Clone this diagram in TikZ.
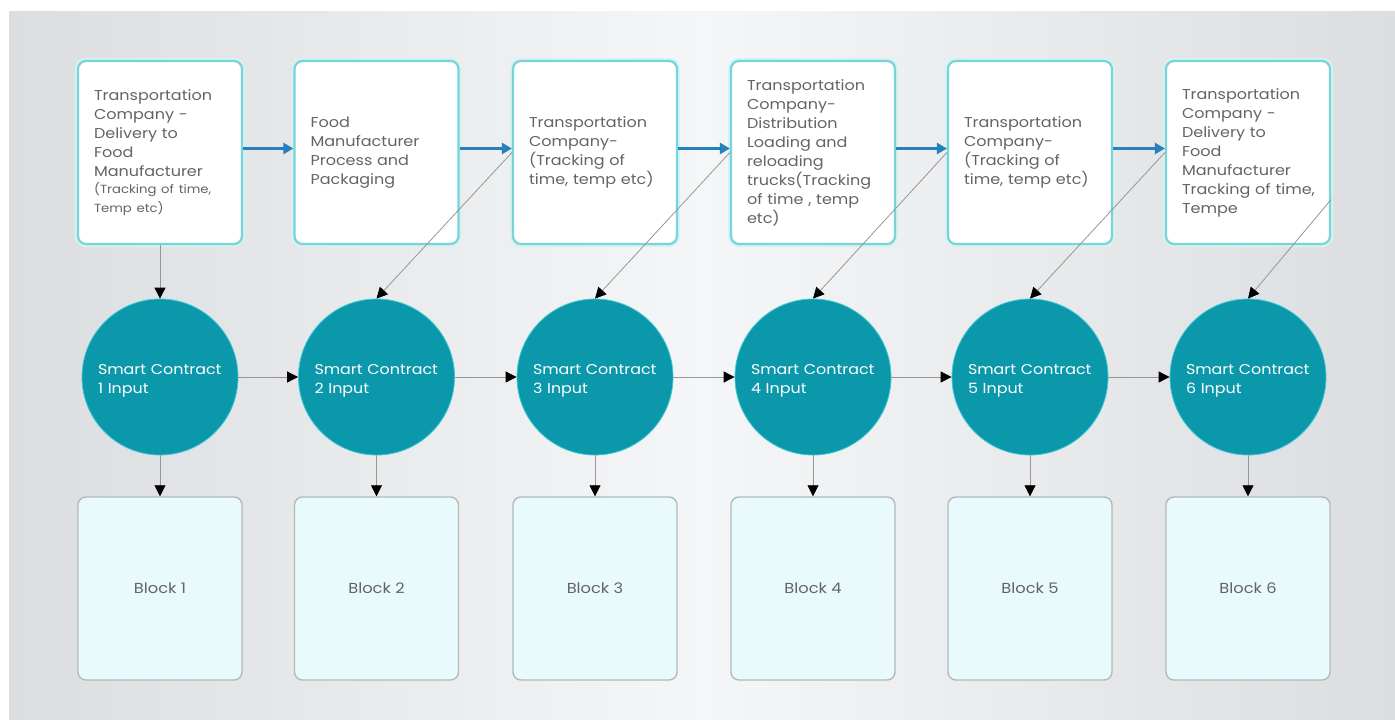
\documentclass[tikz,border=0pt]{standalone}
\usepackage{fontspec}
\setmainfont{Poppins}[FakeStretch=1.12]
\usetikzlibrary{arrows.meta}
\definecolor{bgA}{RGB}{220,221,224}
\definecolor{bgB}{RGB}{245,246,247}
\definecolor{boxcyan}{RGB}{120,212,214}
\definecolor{glowc}{RGB}{214,242,243}
\definecolor{txtgrey}{RGB}{100,100,100}
\definecolor{tealc}{RGB}{10,152,170}
\definecolor{tealedge}{RGB}{60,200,215}
\definecolor{blkfill}{RGB}{233,250,252}
\definecolor{blkedge}{RGB}{178,186,188}
\definecolor{arrblue}{RGB}{38,128,190}
\definecolor{lnGrey}{RGB}{150,150,150}
\tikzset{
  topbox/.style={draw=boxcyan, line width=2.2pt, fill=white, rounded corners=8pt,
    preaction={draw=glowc, line width=6pt},
    minimum height=183pt, text width=132pt, inner xsep=16pt, inner ysep=0pt,
    align=left, text=txtgrey, font=\fontsize{14.3}{19}\selectfont},
  sc/.style={circle, fill=tealc, draw=tealedge, line width=0.8pt, minimum size=156pt,
    text width=124pt, align=left, text=white, font=\fontsize{14.2}{19}\selectfont},
  blk/.style={draw=blkedge, line width=1.4pt, fill=blkfill, rounded corners=8pt,
    minimum width=164pt, minimum height=183pt, text=txtgrey,
    font=\fontsize{14.5}{19}\selectfont},
  bluearr/.style={draw=arrblue, line width=3pt, -{Triangle[length=10pt,width=11pt]}},
  blkarr/.style={draw=lnGrey, line width=0.8pt, -{Triangle[length=11pt,width=11pt,color=black]}}
}
\begin{document}
\begin{tikzpicture}[x=1pt,y=-1pt]
\useasboundingbox (0,0) rectangle (1395,720);
\fill[white] (0,0) rectangle (1395,720);
\shade[left color=bgA, right color=bgA, middle color=bgB] (9,11) rectangle (1395,720);

% top boxes
\node[topbox] (t1) at (160,152.5) {Transportation\\Company -\\Delivery to\\Food\\Manufacturer\\{\fontsize{11.8}{17}\selectfont (Tracking of time,\\Temp etc)}};
\node[topbox] (t2) at (376.5,152.5) {Food\\Manufacturer\\Process and\\Packaging};
\node[topbox] (t3) at (595,152.5) {Transportation\\Company-\\(Tracking of\\time, temp etc)};
\node[topbox] (t4) at (813,152.5) {Transportation\\Company-\\Distribution\\Loading and\\reloading\\trucks(Tracking\\of time , temp\\etc)};
\node[topbox] (t5) at (1030,152.5) {Transportation\\Company-\\(Tracking of\\time, temp etc)};
\node[topbox] (t6) at (1248,152.5) {Transportation\\Company -\\Delivery to\\Food\\Manufacturer\\\mbox{Tracking of time,}\\Tempe};

% circles and blocks
\foreach \i/\x in {1/160,2/376.5,3/595,4/813,5/1030,6/1248}{
  \node[sc] (c\i) at (\x,377) {\rule{0pt}{17pt}Smart Contract\\\i\ Input};
  \node[blk] (b\i) at (\x,588.5) {Block \i};
}

% blue arrows
\foreach \a/\b in {t1/t2,t2/t3,t3/t4,t4/t5,t5/t6}{
  \draw[bluearr] ([yshift=4pt]\a.east) -- ([yshift=4pt]\b.west);
}
% circle chain
\foreach \a/\b in {c1/c2,c2/c3,c3/c4,c4/c5,c5/c6}{
  \draw[blkarr] (\a.east) -- (\b.west);
}
% circle to block
\foreach \i in {1,...,6}{
  \draw[blkarr] (c\i.south) -- (b\i.north);
}
% top to circles
\draw[blkarr] (t1.south) -- (c1.north);
\draw[blkarr] (t3.west) -- (c2.north);
\draw[blkarr] (t4.west) -- (c3.north);
\draw[blkarr] (t5.west) -- (c4.north);
\draw[blkarr] (t6.west) -- (c5.north);
\coordinate (e6) at ([yshift=-47pt]t6.east);
\draw[blkarr] (e6) -- (c6.north);
\end{tikzpicture}
\end{document}
